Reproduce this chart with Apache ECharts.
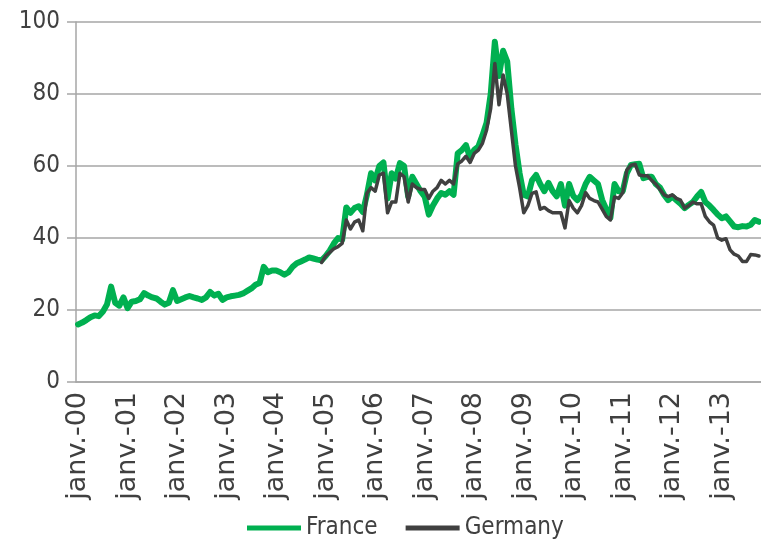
<!DOCTYPE html>
<html>
<head>
<meta charset="utf-8">
<script src="https://cdn.jsdelivr.net/npm/echarts@6/dist/echarts.min.js"></script>
<style>
  html, body { margin: 0; padding: 0; background: #fff; }
  #chart { width: 761px; height: 541px; }
</style>
</head>
<body>
<div id="chart"></div>
<script>
// monthly, janv. 2000 -> oct. 2013
const monthNames = ['janv.', 'févr.', 'mars', 'avr.', 'mai', 'juin', 'juil.', 'août', 'sept.', 'oct.', 'nov.', 'déc.']
const years = ['00', '01', '02', '03', '04', '05', '06', '07', '08', '09', '10', '11', '12', '13']
const lastMonthCount = 10

const france = [
  16, 16.5, 17.2, 18, 18.5, 18.3, 19.5, 21.5, 26.5, 22, 21.2, 23.5,
  20.5, 22.3, 22.5, 23, 24.7, 24, 23.5, 23.2, 22.3, 21.5, 22, 25.5,
  22.5, 23, 23.5, 23.9, 23.5, 23.2, 22.8, 23.5, 25, 24, 24.5, 22.8,
  23.5, 23.8, 24, 24.2, 24.6, 25.3, 26, 27, 27.5, 32, 30.5, 31,
  31, 30.5, 29.8, 30.5, 32, 33, 33.5, 34, 34.6, 34.3, 34, 33.8,
  35, 36.5, 38.5, 40, 39.5, 48.5, 47, 48.3, 48.8, 47.2, 52, 58,
  56, 60, 61, 51, 58, 56.5, 60.8, 60, 51.5, 57, 55, 53,
  51.5, 46.5, 49, 51, 52.5, 52, 53, 52, 63.5, 64.4, 65.8, 62.3,
  64.5, 65.4, 68.5, 72, 80, 94.5, 85, 92, 89, 76, 66, 58,
  52, 51.5, 56, 57.5, 55, 53, 55.3, 53, 51.6, 55, 49, 55,
  51.7, 50.5, 52, 55, 57, 56, 55, 50.6, 48, 45.6, 55, 53,
  53, 58, 60.3, 60.5, 60.6, 56.6, 57, 57, 55, 54, 52, 50.5,
  51.5, 50.5, 49.5, 48.3, 49.2, 50, 51.5, 52.8, 50, 49, 47.8, 46.5,
  45.5, 46, 44.6, 43.2, 43, 43.3, 43.2, 43.7, 45, 44.5
]

const germany = [
  null, null, null, null, null, null, null, null, null, null, null, null,
  null, null, null, null, null, null, null, null, null, null, null, null,
  null, null, null, null, null, null, null, null, null, null, null, null,
  null, null, null, null, null, null, null, null, null, null, null, null,
  null, null, null, null, null, null, null, null, null, null, null, 33.2,
  35, 36, 37, 37.6, 38.5, 45, 42.5, 44.4, 45, 42, 52.4, 54,
  53, 57.5, 58, 47, 50, 50, 58, 57, 50, 55, 54, 53.5,
  53.5, 51, 53, 54, 56, 55, 56, 55, 60.6, 61.4, 62.7, 61,
  63.5, 64.4, 66.3, 70, 76, 88.5, 77, 85.3, 80, 70, 60, 54,
  47, 49, 52.4, 52.8, 48, 48.5, 47.6, 47, 47, 47, 42.8, 50.4,
  48.3, 47, 49, 52.6, 51, 50.4, 50, 48, 46, 45, 51.4, 51,
  52.6, 58.9, 60.2, 60.5, 57.5, 57.3, 57.3, 56, 55, 53.5, 52, 51.5,
  52, 51, 50.5, 48.3, 49, 50, 49.5, 49.5, 46, 44.5, 43.6, 40,
  39.4, 39.8, 36.7, 35.5, 35, 33.5, 33.5, 35.4, 35.3, 35
]

const yTicks = [0, 20, 40, 60, 80, 100]

const categories = []
years.forEach((y, yi) => {
  const n = yi === years.length - 1 ? lastMonthCount : 12
  for (let m = 0; m < n; m++) categories.push(monthNames[m] + '-' + y)
})

const narrowFont = '"DejaVu Sans Condensed", "Liberation Sans Narrow", Lato, sans-serif'
const wideFont = '"DejaVu Sans", Verdana, sans-serif'
const textColor = '#404040'
const gridColor = '#A6A6A6'

const chart = echarts.init(document.getElementById('chart'))
chart.setOption({
  animation: false,
  grid: { left: 76, right: 0, top: 22, bottom: 159, containLabel: false },
  legend: {
    top: 511,
    left: 242,
    itemWidth: 54,
    itemHeight: 5,
    itemGap: 28,
    icon: 'rect',
    textStyle: { fontFamily: narrowFont, fontSize: 24, color: textColor },
    data: [
      { name: 'France', itemStyle: { color: '#00B050' } },
      { name: 'Germany', itemStyle: { color: '#404040' } }
    ]
  },
  xAxis: {
    type: 'category',
    data: categories,
    boundaryGap: true,
    axisLine: { lineStyle: { color: gridColor, width: 1.5 } },
    axisTick: { interval: 11, length: 8, lineStyle: { color: gridColor, width: 1.5 } },
    axisLabel: {
      interval: 11,
      rotate: 90,
      margin: 10,
      fontFamily: wideFont,
      fontSize: 27,
      color: textColor
    },
    splitLine: { show: false }
  },
  yAxis: {
    type: 'value',
    min: 0,
    max: 100,
    interval: 20,
    axisLine: { show: true, lineStyle: { color: gridColor, width: 1.5 } },
    axisTick: { show: true, length: 9, lineStyle: { color: gridColor, width: 1.5 } },
    axisLabel: {
      margin: 16,
      fontFamily: narrowFont,
      fontSize: 24,
      color: textColor,
      formatter: v => (yTicks.includes(v) ? String(v) : '')
    },
    splitLine: { lineStyle: { color: gridColor, width: 1.5 } }
  },
  series: [
    {
      name: 'France',
      type: 'line',
      data: france,
      showSymbol: false,
      lineStyle: { color: '#00B050', width: 6, join: 'round', cap: 'round' },
      itemStyle: { color: '#00B050' },
      z: 2
    },
    {
      name: 'Germany',
      type: 'line',
      data: germany,
      showSymbol: false,
      connectNulls: false,
      lineStyle: { color: '#404040', width: 3.5, join: 'round', cap: 'round' },
      itemStyle: { color: '#404040' },
      z: 3
    }
  ]
})
</script>
</body>
</html>
